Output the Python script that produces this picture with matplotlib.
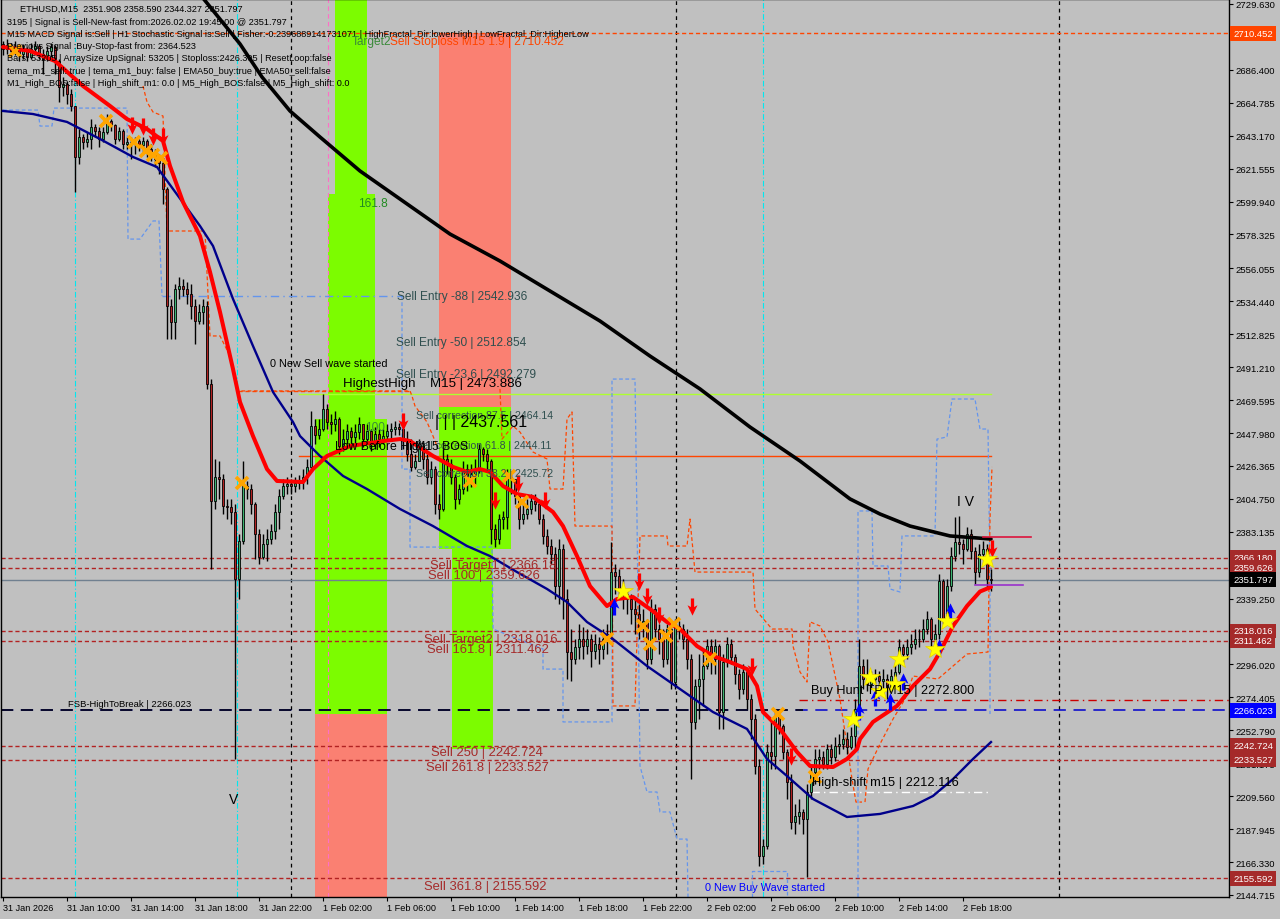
import numpy as np
import matplotlib
matplotlib.use("Agg")
import matplotlib.pyplot as plt
from matplotlib.path import Path
from matplotlib.transforms import blended_transform_factory

plt.rcParams['font.family'] = ['Liberation Sans', 'DejaVu Sans']

BG = '#c0c0c0'
W, H = 1280, 920

# ---------------- ETHUSD M15 candles (open = previous close) ----------------
first_open = 2703.4
closes = [
    2700.1, 2702.7, 2698.8, 2701.4, 2696.8, 2698.8, 2694.8, 2700.1, 2702.1, 2696.8,
    2693.5, 2698.8, 2701.4, 2692.2, 2675.1, 2677.1, 2670.5, 2662.7, 2629.2, 2642.3,
    2639.0, 2641.0, 2648.9, 2646.3, 2641.0, 2645.6, 2652.8, 2650.2, 2641.0, 2646.3,
    2637.7, 2639.0, 2639.0, 2639.7, 2637.1, 2639.7, 2634.4, 2631.2, 2627.9, 2625.2,
    2608.2, 2531.4, 2520.9, 2542.5, 2544.5, 2542.5, 2539.2, 2531.4, 2521.5, 2527.4,
    2531.4, 2480.1, 2403.3, 2419.1, 2417.8, 2400.1, 2399.4, 2396.1, 2352.1, 2377.1,
    2413.2, 2411.2, 2401.4, 2381.7, 2366.6, 2375.1, 2378.4, 2383.6, 2396.1, 2406.6,
    2413.2, 2414.5, 2413.2, 2415.2, 2416.5, 2419.1, 2425.7, 2452.6, 2446.7, 2450.6,
    2463.7, 2455.2, 2453.9, 2457.2, 2439.4, 2444.0, 2449.3, 2445.4, 2448.6, 2453.9,
    2444.0, 2449.3, 2440.8, 2447.3, 2444.0, 2446.0, 2449.3, 2450.6, 2451.9, 2450.6,
    2444.0, 2434.2, 2425.7, 2429.6, 2439.4, 2430.9, 2419.1, 2424.3, 2401.4, 2398.1,
    2430.9, 2427.6, 2419.1, 2404.7, 2411.2, 2424.3, 2417.8, 2421.1, 2424.3, 2437.5,
    2434.2, 2429.6, 2385.0, 2378.4, 2391.5, 2392.8, 2419.1, 2417.8, 2406.6, 2391.5,
    2394.8, 2398.1, 2403.3, 2401.4, 2391.5, 2380.4, 2373.8, 2368.5, 2347.5, 2371.8,
    2339.0, 2304.2, 2299.6, 2307.5, 2312.7, 2308.1, 2312.7, 2304.9, 2309.5, 2306.2,
    2312.7, 2316.0, 2356.7, 2354.1, 2345.6, 2342.3, 2339.0, 2332.4, 2329.2, 2320.6,
    2324.6, 2299.6, 2332.4, 2319.3, 2312.7, 2299.6, 2319.3, 2284.5, 2321.3, 2319.3,
    2312.7, 2299.6, 2258.3, 2281.9, 2286.5, 2295.0, 2308.1, 2299.6, 2308.1, 2264.8,
    2297.6, 2309.5, 2300.9, 2289.8, 2279.9, 2291.1, 2273.3, 2260.2, 2229.4, 2170.3,
    2176.8, 2238.6, 2235.9, 2262.2, 2255.6, 2238.6, 2218.9, 2192.6, 2196.5, 2199.2,
    2194.6, 2212.3, 2225.4, 2234.0, 2235.3, 2230.7, 2240.5, 2235.3, 2242.5, 2243.8,
    2247.1, 2241.8, 2249.1, 2266.8, 2295.0, 2286.5, 2283.2, 2286.5, 2288.4, 2285.2,
    2286.5, 2279.9, 2288.4, 2291.1, 2307.5, 2302.9, 2307.5, 2309.5, 2312.7, 2312.7,
    2319.3, 2325.9, 2312.7, 2316.0, 2350.8, 2325.9, 2347.5, 2367.2, 2376.4, 2375.1,
    2371.8, 2381.7, 2370.5, 2356.7, 2368.5, 2371.8, 2351.9, 2351.8]
highs = [
    2705.3, 2706.6, 2704.0, 2705.3, 2703.4, 2703.4, 2701.4, 2704.0, 2705.3, 2703.4,
    2700.1, 2702.1, 2704.0, 2702.7, 2693.5, 2681.7, 2679.1, 2673.8, 2662.7, 2647.6,
    2644.3, 2645.6, 2654.1, 2650.9, 2648.9, 2648.9, 2657.4, 2654.1, 2650.9, 2648.9,
    2647.6, 2642.3, 2642.3, 2642.3, 2641.0, 2642.3, 2641.0, 2637.7, 2634.4, 2631.2,
    2627.9, 2609.5, 2536.0, 2545.8, 2550.4, 2549.1, 2547.1, 2545.8, 2536.0, 2532.7,
    2536.0, 2534.6, 2483.4, 2430.9, 2429.6, 2421.1, 2404.7, 2404.7, 2401.4, 2381.7,
    2429.6, 2416.5, 2414.5, 2403.0, 2385.0, 2381.7, 2385.0, 2388.2, 2401.4, 2411.2,
    2417.8, 2419.1, 2417.8, 2419.1, 2420.4, 2424.3, 2430.9, 2462.4, 2457.2, 2457.2,
    2473.6, 2467.0, 2460.5, 2462.4, 2458.5, 2450.6, 2453.9, 2451.9, 2453.9, 2458.5,
    2453.9, 2453.9, 2450.6, 2451.9, 2450.6, 2450.6, 2453.9, 2454.5, 2455.9, 2454.5,
    2453.9, 2449.3, 2444.0, 2434.2, 2444.0, 2440.8, 2434.2, 2429.6, 2426.0, 2407.9,
    2437.5, 2434.2, 2430.9, 2421.1, 2414.5, 2429.6, 2427.6, 2427.6, 2430.9, 2440.8,
    2438.8, 2437.5, 2430.9, 2388.2, 2394.8, 2396.8, 2424.3, 2423.0, 2417.8, 2407.9,
    2401.4, 2404.7, 2407.9, 2407.9, 2404.7, 2394.8, 2385.0, 2378.4, 2373.1, 2378.4,
    2375.1, 2345.6, 2319.3, 2312.7, 2322.6, 2320.6, 2319.3, 2316.0, 2316.0, 2314.1,
    2319.3, 2322.6, 2376.4, 2362.0, 2358.7, 2352.1, 2345.6, 2342.3, 2339.0, 2335.7,
    2332.4, 2325.9, 2339.0, 2335.7, 2322.6, 2319.3, 2322.6, 2322.6, 2325.9, 2324.6,
    2322.6, 2319.3, 2302.9, 2286.5, 2302.9, 2306.2, 2312.7, 2312.7, 2312.7, 2309.5,
    2302.9, 2314.1, 2312.7, 2302.9, 2293.0, 2296.3, 2293.0, 2276.6, 2263.5, 2234.0,
    2181.4, 2243.8, 2260.2, 2266.8, 2263.5, 2256.9, 2240.5, 2224.1, 2204.4, 2207.7,
    2201.1, 2217.5, 2230.7, 2240.5, 2240.5, 2239.2, 2243.8, 2243.8, 2248.4, 2250.4,
    2253.7, 2251.7, 2255.0, 2273.3, 2312.7, 2299.6, 2299.6, 2291.7, 2293.0, 2291.7,
    2293.0, 2289.8, 2293.0, 2296.3, 2312.7, 2309.5, 2312.7, 2316.0, 2319.3, 2319.3,
    2325.9, 2331.1, 2327.2, 2322.6, 2355.4, 2352.1, 2352.1, 2373.1, 2392.8, 2393.5,
    2378.4, 2386.3, 2385.0, 2373.1, 2375.1, 2377.1, 2375.1, 2358.6]
lows = [
    2696.1, 2696.8, 2694.8, 2696.1, 2692.2, 2693.5, 2692.2, 2693.5, 2696.8, 2693.5,
    2683.7, 2692.2, 2694.8, 2683.7, 2665.3, 2669.2, 2664.0, 2659.4, 2606.2, 2624.6,
    2634.4, 2635.8, 2634.4, 2642.3, 2635.8, 2639.0, 2644.3, 2646.3, 2637.7, 2639.7,
    2634.4, 2634.4, 2627.9, 2631.2, 2633.1, 2631.2, 2629.2, 2626.6, 2622.6, 2618.0,
    2598.3, 2509.7, 2509.7, 2509.7, 2536.0, 2537.9, 2532.7, 2522.8, 2506.4, 2519.5,
    2519.5, 2476.9, 2358.7, 2398.1, 2404.7, 2394.8, 2391.5, 2388.2, 2234.0, 2339.0,
    2375.1, 2404.7, 2394.8, 2365.3, 2362.0, 2365.3, 2364.0, 2375.1, 2378.4, 2385.0,
    2404.7, 2407.9, 2407.9, 2409.2, 2411.2, 2411.2, 2414.5, 2424.3, 2440.8, 2444.0,
    2449.3, 2450.6, 2447.3, 2449.3, 2434.2, 2436.2, 2440.8, 2437.5, 2440.8, 2444.0,
    2438.8, 2440.8, 2436.2, 2437.5, 2438.8, 2440.8, 2442.7, 2444.0, 2446.7, 2446.7,
    2437.5, 2429.6, 2423.0, 2424.3, 2429.6, 2424.3, 2414.5, 2414.5, 2394.8, 2391.5,
    2396.8, 2421.1, 2414.5, 2398.1, 2401.4, 2407.9, 2409.9, 2412.5, 2414.5, 2422.0,
    2429.6, 2424.3, 2375.1, 2373.1, 2375.1, 2385.0, 2385.0, 2407.9, 2401.4, 2385.0,
    2388.2, 2391.5, 2394.8, 2396.8, 2388.2, 2375.1, 2368.5, 2362.0, 2339.0, 2335.7,
    2325.9, 2286.5, 2285.2, 2296.3, 2299.6, 2299.6, 2302.9, 2294.4, 2299.6, 2296.3,
    2299.6, 2302.9, 2312.7, 2342.3, 2339.0, 2332.4, 2329.2, 2322.6, 2316.0, 2312.7,
    2314.1, 2293.0, 2296.3, 2312.7, 2302.9, 2294.4, 2296.3, 2279.9, 2279.9, 2312.7,
    2306.2, 2293.0, 2220.8, 2253.7, 2260.2, 2268.8, 2293.0, 2289.8, 2289.8, 2253.7,
    2253.7, 2294.4, 2296.3, 2283.2, 2273.3, 2276.6, 2266.8, 2247.1, 2224.1, 2163.7,
    2165.0, 2174.9, 2227.4, 2227.4, 2250.4, 2234.0, 2207.7, 2188.0, 2184.7, 2191.3,
    2184.7, 2156.5, 2207.7, 2217.5, 2227.4, 2227.4, 2227.4, 2230.7, 2232.6, 2237.2,
    2240.5, 2237.2, 2240.5, 2240.5, 2265.5, 2279.9, 2278.6, 2279.9, 2283.2, 2279.9,
    2276.6, 2273.3, 2278.6, 2283.2, 2289.8, 2296.3, 2299.6, 2302.9, 2306.2, 2307.5,
    2310.8, 2316.0, 2306.2, 2306.2, 2312.7, 2322.6, 2322.6, 2344.3, 2364.0, 2368.5,
    2362.0, 2370.5, 2365.3, 2348.8, 2353.4, 2365.3, 2346.9, 2344.3]

# ---------------- moving averages (bar, price) ----------------
ma_black_bar = [48, 59.25, 64.75, 71.75, 79.25, 89.25, 99.25, 111.75, 124.25, 136.75,
                149.25, 161.75, 174.25, 186.75, 199.25, 211.75, 219.25, 226.75, 236.75, 247]
ma_black_px = [2740.0, 2703.4, 2681.7, 2659.4, 2642.3, 2620.0, 2601.6, 2578.6, 2560.9, 2541.2,
               2521.5, 2498.5, 2476.9, 2451.9, 2429.6, 2404.7, 2394.8, 2386.9, 2380.4, 2378.4]

ma_red_bar = [0, 6.75, 13, 20, 26.75, 31, 36, 40, 41.75, 45, 49.25, 51.75, 54.25, 57.5, 59.25,
              62.5, 66, 68.5, 75, 77.5, 81, 86.75, 95, 99.25, 101.75, 107.5, 112.5, 116,
              119.25, 121.75, 125, 128.5, 132.5, 137.5, 140, 143.5, 146.75, 151, 153.5,
              157.5, 161.75, 166, 169.25, 173.5, 177.5, 181.75, 186, 188.5, 190, 194.25,
              198.5, 201.75, 207.5, 211, 213.5, 214.25, 217.5, 223.5, 227.5, 231.75,
              234.25, 237.5, 241, 244.25, 247]
ma_red_px = [2701.4, 2698.8, 2692.2, 2675.8, 2662.7, 2654.1, 2647.6, 2639.7, 2623.3, 2599.6,
             2577.3, 2553.7, 2527.4, 2490.0, 2468.3, 2446.0, 2424.3, 2416.5, 2415.8, 2424.3,
             2432.9, 2439.4, 2442.7, 2444.0, 2442.7, 2432.9, 2425.7, 2422.4, 2424.3, 2422.4,
             2413.2, 2407.9, 2406.0, 2396.1, 2386.9, 2367.2, 2347.5, 2334.4, 2339.0, 2340.3,
             2332.4, 2323.9, 2319.3, 2308.1, 2301.6, 2297.6, 2293.0, 2281.9, 2264.8, 2253.7,
             2238.6, 2229.4, 2228.7, 2234.0, 2240.5, 2247.1, 2258.3, 2268.8, 2281.9, 2293.0,
             2304.2, 2321.3, 2334.4, 2343.9, 2346.9]

ma_navy_bar = [0, 7.5, 16, 24.25, 32.5, 38.5, 42.5, 49.25, 52.5, 57.5, 62.5, 67.5, 72.5,
               74.25, 79.25, 85, 91, 99.25, 107.5, 116, 121.75, 128.5, 136, 141, 146,
               152.5, 161, 169.25, 177.5, 186, 191, 196, 202.5, 211, 219.25, 227.5,
               232.5, 237.5, 242.5, 247]
ma_navy_px = [2659.4, 2657.4, 2652.2, 2641.0, 2629.2, 2622.6, 2608.2, 2583.9, 2570.8, 2536.0,
              2505.1, 2474.9, 2455.2, 2446.0, 2432.9, 2419.8, 2411.2, 2398.1, 2386.9, 2373.8,
              2367.2, 2356.7, 2345.6, 2337.0, 2323.9, 2312.7, 2295.0, 2279.9, 2264.8, 2253.7,
              2234.0, 2222.8, 2207.7, 2195.9, 2197.9, 2203.1, 2209.7, 2220.8, 2234.0, 2245.1]

# ---------------- channel step lines (bar, price) ----------------
blue_a_bar = [0, 8.75, 9.25, 12.25, 12.75, 31, 31.25, 34.25, 37.5, 39, 39.75]
blue_a_px = [2660.0, 2660.0, 2649.5, 2649.5, 2661.3, 2661.3, 2575.3, 2575.3, 2587.2, 2587.2, 2537.9]
blue_b_bar = [99.75, 99.75, 101.75, 101.75, 122.25, 122.5, 135, 135, 140, 140, 152.25, 152.25,
              158, 158.5, 159.25, 161, 163.5, 164.25, 166.75, 168.5, 171, 171.25]
blue_b_px = [2537.9, 2424.3, 2424.3, 2373.1, 2373.1, 2319.3, 2306.2, 2293.0, 2293.0, 2258.3,
             2258.3, 2483.4, 2483.4, 2391.5, 2229.4, 2212.3, 2212.3, 2199.2, 2199.2, 2181.4,
             2181.4, 2143.4]
blue_box_bar = [187.25, 187.25, 196, 196]
blue_box_px = [2143.4, 2160.4, 2160.4, 2143.4]
blue_c_bar = [213.75, 213.75, 217.25, 217.5, 221.25, 221.75, 224.25, 224.75, 233, 233.5, 236,
              237.25, 243, 244.25, 246.25, 246.75, 246.75]
blue_c_px = [2143.4, 2396.8, 2396.8, 2360.7, 2360.7, 2345.6, 2343.6, 2380.4, 2380.4, 2444.0,
             2445.4, 2470.3, 2470.3, 2450.6, 2450.6, 2352.1, 2263.5]

orange_a_bar = [35, 36, 37.5, 40, 41, 50.5, 51.75, 54.25, 56.75, 58.75, 101.75, 102.25, 103,
                106, 107.5, 108.5]
orange_a_px = [2675.8, 2665.3, 2658.7, 2656.1, 2580.6, 2580.6, 2511.7, 2511.7, 2498.5, 2475.6,
               2475.6, 2472.3, 2465.7, 2455.2, 2446.0, 2439.4]
orange_b_bar = [124.25, 124.75, 127.5, 129.25, 132.5, 136, 136.75, 140, 141, 142.25, 143,
                152.25, 152.5, 158, 159.25, 166, 166.25, 171, 171.75, 173, 187.5, 188,
                192.25, 197.25, 197.5, 199.25, 201, 201.75, 204.25, 206.25, 209.25, 212.25,
                213.25, 214.75]
orange_b_px = [2476.9, 2444.0, 2452.6, 2448.6, 2435.5, 2430.9, 2411.2, 2411.2, 2457.2, 2461.8,
               2386.9, 2386.9, 2268.8, 2268.8, 2380.4, 2380.4, 2373.8, 2373.8, 2391.5, 2356.7,
               2356.7, 2332.4, 2319.3, 2319.3, 2308.1, 2291.1, 2284.5, 2324.0, 2321.3, 2310.8,
               2273.3, 2220.8, 2205.7, 2205.7]
orange_c_bar = [215.5, 216.25, 219.25, 222.5, 225.5, 227.5, 233.75, 241, 246.25, 246.75, 247.25]
orange_c_px = [2205.7, 2227.4, 2243.8, 2260.2, 2273.3, 2288.4, 2286.5, 2302.9, 2304.2, 2391.5, 2425.7]

# ---------------- levels ----------------
sell_levels = [2366.180, 2359.626, 2318.016, 2311.462, 2242.724, 2233.527, 2155.592]
stoploss_level = 2710.452
bid = 2351.797
fsb_level = 2266.023
buy_hunt_tp = 2272.800
high_shift = 2212.116
highest_high = 2473.886
bos_level = 2432.9
sell_wave_level = 2475.6
entry_line = 2537.9

# zones: (bar0, bar1, price_low, price_high, colour)
zones = [
    (83.0, 91.0, 2604.9, 2740.0, '#7cfc00'),
    (81.25, 93.0, 2457.2, 2604.9, '#7cfc00'),
    (78.0, 96.0, 2263.5, 2457.2, '#7cfc00'),
    (78.0, 96.0, 2140.0, 2263.5, '#fa8072'),
    (109.0, 127.0, 2465.1, 2710.452, '#fa8072'),
    (109.0, 127.0, 2371.8, 2465.1, '#7cfc00'),
    (112.25, 122.5, 2240.5, 2371.8, '#7cfc00'),
]

# signal markers (bar, price)
sell_arrow_bar = [32.25, 35, 37.5, 40, 100, 123, 128.75, 135.5, 159, 161, 164, 172.25, 187.25, 197, 247.25]
sell_arrow_px = [2649.5, 2648.9, 2642.3, 2642.3, 2455.2, 2403.3, 2414.5, 2403.3, 2350.2, 2340.3,
                 2327.8, 2333.8, 2294.4, 2235.3, 2371.8]
cross_bar = [3, 25.75, 32.75, 35.75, 37.5, 39.5, 59.75, 116.75, 126.5, 129.75, 151, 160,
             161.75, 165.75, 167.75, 176.75, 193.75, 203]
cross_px = [2698.8, 2652.8, 2639.0, 2633.1, 2630.5, 2628.5, 2415.2, 2416.5, 2419.8, 2402.7,
            2312.7, 2321.3, 2309.5, 2314.7, 2322.6, 2299.6, 2263.5, 2222.1]
star_bar = [155, 212.5, 216.75, 219.25, 223, 224, 233, 236, 246]
star_px = [2344.3, 2260.2, 2287.8, 2278.6, 2283.2, 2299.6, 2306.2, 2324.6, 2365.3]
buy_arrow_bar = [152.75, 214, 218, 221.75, 225, 234, 236.75]
buy_arrow_px = [2334.4, 2265.5, 2274.7, 2272.1, 2285.2, 2307.5, 2331.1]

# axes
time_ticks = [0, 16, 32, 48, 64, 80, 96, 112, 128, 144, 160, 176, 192, 208, 224, 240]
time_labels = ['31 Jan 2026', '31 Jan 10:00', '31 Jan 14:00', '31 Jan 18:00', '31 Jan 22:00',
               '1 Feb 02:00', '1 Feb 06:00', '1 Feb 10:00', '1 Feb 14:00', '1 Feb 18:00',
               '1 Feb 22:00', '2 Feb 02:00', '2 Feb 06:00', '2 Feb 10:00', '2 Feb 14:00',
               '2 Feb 18:00']
price_ticks = [2729.630, 2708.015, 2686.400, 2664.785, 2643.170, 2621.555, 2599.940, 2578.325,
               2556.055, 2534.440, 2512.825, 2491.210, 2469.595, 2447.980, 2426.365, 2404.750,
               2383.135, 2361.520, 2339.250, 2317.635, 2296.020, 2274.405, 2252.790, 2231.175,
               2209.560, 2187.945, 2166.330, 2144.715]
price_boxes = [(2710.452, '#ff4500'), (2366.180, '#a52a2a'), (2359.626, '#a52a2a'),
               (2351.797, '#000000'), (2318.016, '#a52a2a'), (2311.462, '#a52a2a'),
               (2266.023, '#0000ff'), (2242.724, '#a52a2a'), (2233.527, '#a52a2a'),
               (2155.592, '#a52a2a')]

header = [
    'ETHUSD,M15  2351.908 2358.590 2344.327 2351.797',
    '3195 | Signal is Sell-New-fast from:2026.02.02 19:45:00 @ 2351.797',
    'M15 MACD Signal is:Sell | H1 Stochastic Signal is:Sell | Fisher:-0.2396889141731071 | '
    'HighFractal_Dir:lowerHigh | LowFractal_Dir:HigherLow',
    'Previous Signal :Buy-Stop-fast from: 2364.523',
    'Bars: 53205 | ArraySize UpSignal: 53205 | Stoploss:2426.305 | ResetLoop:false',
    'tema_m1_sell: true | tema_m1_buy: false | EMA50_buy:true | EMA50_sell:false',
    'M1_High_BOS:false | High_shift_m1: 0.0 | M5_High_BOS:false | M5_High_shift: 0.0',
]

# ---------------- figure ----------------
fig = plt.figure(figsize=(W / 100, H / 100), dpi=100, facecolor=BG)
ax = fig.add_axes([1 / W, 22 / H, 1228 / W, 898 / H], facecolor=BG)
ax.set_xlim(-0.5, 306.5)
ax.set_ylim(2143.37, 2732.91)

for b0, b1, p0, p1, col in zones:
    ax.fill_between([b0, b1], p0, p1, color=col, lw=0, zorder=1)

# vertical separators
for b in [72, 168.25, 264]:
    ax.axvline(b, color='black', lw=0.9, ls=(0, (3, 3)), zorder=2)
for b in [18, 58.5, 190]:
    ax.axvline(b, color='#00e8f0', lw=0.8, ls=(0, (5, 2, 1, 2)), zorder=2)
ax.axvline(81.25, color='#ff6ec7', lw=0.8, ls=(0, (4, 3)), zorder=2)

# horizontal levels
for lv in sell_levels:
    ax.axhline(lv, color='#b22222', lw=1, ls=(0, (3, 2)), zorder=2)
ax.axhline(stoploss_level, color='#ff4500', lw=1, ls=(0, (3, 2)), zorder=2)
ax.axhline(bid, color='#708090', lw=1, zorder=2)
ax.axhline(fsb_level, color='#0000cd', lw=1.1, ls=(0, (8, 5)), zorder=2)
ax.plot([-0.5, 200], [fsb_level, fsb_level], color='black', lw=1.1, ls=(0, (8, 5)), zorder=2)
ax.plot([199, 306.5], [buy_hunt_tp, buy_hunt_tp], color='#cc0000', lw=1, ls=(0, (6, 3, 1, 3)), zorder=2)
ax.plot([202, 247], [high_shift, high_shift], color='white', lw=1, ls=(0, (6, 3, 1, 3)), zorder=2)
ax.plot([74, 247], [highest_high, highest_high], color='#adff2f', lw=1, zorder=2)
ax.plot([74, 247], [bos_level, bos_level], color='#ff4500', lw=1, zorder=2)
ax.plot([58.75, 101.75], [sell_wave_level, sell_wave_level], color='#ff4500', lw=1, ls=(0, (3, 2)), zorder=2)
ax.plot([39.75, 99.75], [entry_line, entry_line], color='#6495ed', lw=1, ls=(0, (6, 3, 1, 3)), zorder=2)

# channel steps
for bx, py in [(blue_a_bar, blue_a_px), (blue_b_bar, blue_b_px), (blue_box_bar, blue_box_px),
               (blue_c_bar, blue_c_px)]:
    ax.plot(bx, py, color='#6495ed', lw=0.9, ls=(0, (3, 2)), zorder=2)
for bx, py in [(orange_a_bar, orange_a_px), (orange_b_bar, orange_b_px), (orange_c_bar, orange_c_px)]:
    ax.plot(bx, py, color='#ff4500', lw=0.9, ls=(0, (3, 2)), zorder=2)

# candles
x = np.arange(len(closes))
c = np.array(closes)
o = np.array([first_open] + closes[:-1])
up = c >= o
ax.vlines(x, lows, highs, color='black', lw=1, zorder=3)
ax.bar(x[up], (c - o)[up], bottom=o[up], width=0.7, color='#3cb371', edgecolor='black', lw=0.6, zorder=4)
ax.bar(x[~up], (c - o)[~up], bottom=o[~up], width=0.7, color='#b22222', edgecolor='black', lw=0.6, zorder=4)

# moving averages
ax.plot(ma_black_bar, ma_black_px, color='black', lw=2.6, zorder=5, solid_capstyle='round')
ax.plot(ma_navy_bar, ma_navy_px, color='#00008b', lw=1.7, zorder=5)
ax.plot(ma_red_bar, ma_red_px, color='#ff0000', lw=2.9, zorder=5, solid_capstyle='round')

ax.plot([245, 257], [2379.7, 2379.7], color='#dc143c', lw=1.2, zorder=5)
ax.plot([243, 255], [2348.2, 2348.2], color='#9932cc', lw=1.2, zorder=5)

# markers
down = Path([(-0.18, 1), (0.18, 1), (0.18, 0.05), (0.55, 0.25), (0, -0.9), (-0.55, 0.25),
             (-0.18, 0.05), (-0.18, 1)], closed=True)
upm = Path([(vx, -vy) for vx, vy in down.vertices], closed=True)
ax.plot(cross_bar, cross_px, ls='none', marker='x', ms=8, mew=2.6, color='#ffa500', zorder=6)
ax.plot(sell_arrow_bar, sell_arrow_px, ls='none', marker=down, ms=13, color='#ff0000', mew=0, zorder=6)
ax.plot(buy_arrow_bar, buy_arrow_px, ls='none', marker=upm, ms=13, color='#0000ff', mew=0, zorder=6)
ax.plot(star_bar, star_px, ls='none', marker='*', ms=15, color='#ffff00', mec='#e6d000', mew=0.5, zorder=6)

# axis cosmetics
for s in ax.spines.values():
    s.set_color('black')
    s.set_linewidth(1)
ax.yaxis.tick_right()
ax.set_yticks(price_ticks)
ax.set_yticklabels(['%.3f' % p for p in price_ticks])
ax.tick_params(axis='y', direction='out', length=3, pad=2, labelsize=6.8, colors='black')
ax.set_xticks(time_ticks)
ax.set_xticklabels(time_labels)
ax.tick_params(axis='x', direction='out', length=3, pad=1, labelsize=6.6, colors='black')
for lab in ax.get_xticklabels():
    lab.set_horizontalalignment('left')

trans = blended_transform_factory(ax.transAxes, ax.transData)
for p, col in price_boxes:
    ax.text(1.0035, p, '%.3f' % p, transform=trans, fontsize=6.8, color='white', va='center',
            ha='left', zorder=10, clip_on=False,
            bbox=dict(boxstyle='square,pad=0.3', fc=col, ec='none'))


def ftext(px, py, s, **kw):
    fig.text(px / W, 1 - py / H, s, va='center', ha='left', **kw)


for k, line in enumerate(header):
    ftext(7 if k else 20, 10 + 12.2 * k if k else 9, line, fontsize=6.6, color='black')

dslate = '#2f4f4f'
brown = '#a52a2a'
ftext(352, 42, 'Target2', fontsize=8.6, color='#3a8a3a')
ftext(390, 42, 'Sell Stoploss M15 1.9 | 2710.452', fontsize=8.6, color='#ff4500')
ftext(358, 204, '161.8', fontsize=8.6, color='#228b22')
ftext(397, 297, 'Sell Entry -88 | 2542.936', fontsize=8.6, color=dslate)
ftext(396, 343, 'Sell Entry -50 | 2512.854', fontsize=8.6, color=dslate)
ftext(396, 375, 'Sell Entry -23.6 | 2492.279', fontsize=8.6, color=dslate)
ftext(270, 364, '0 New Sell wave started', fontsize=7.8, color='black')
ftext(343, 384, 'HighestHigh    M15 | 2473.886', fontsize=9.5, color='black')
ftext(416, 416, 'Sell correction 87.5 | 2464.14', fontsize=7.6, color=dslate)
ftext(435, 423, '| | | 2437.561', fontsize=11.5, color='black')
ftext(365, 428, '100', fontsize=8.6, color='#3a8a3a')
ftext(335, 447, 'Low Before High', fontsize=8.8, color='black')
ftext(415, 446, 'Sell correction 61.8 | 2444.11', fontsize=7.6, color=dslate)
ftext(415, 447, 'M15 BOS', fontsize=8.8, color='black')
ftext(416, 474, 'Sell correction 38.2 | 2425.72', fontsize=7.6, color=dslate)
ftext(430, 566, 'Sell Target1 | 2366.18', fontsize=9.4, color=brown)
ftext(428, 576, 'Sell 100 | 2359.626', fontsize=9.4, color=brown)
ftext(424, 640, 'Sell Target2 | 2318.016', fontsize=9.4, color=brown)
ftext(427, 650, 'Sell 161.8 | 2311.462', fontsize=9.4, color=brown)
ftext(431, 753, 'Sell 250 | 2242.724', fontsize=9.4, color=brown)
ftext(426, 768, 'Sell 261.8 | 2233.527', fontsize=9.4, color=brown)
ftext(424, 887, 'Sell 361.8 | 2155.592', fontsize=9.4, color=brown)
ftext(68, 705, 'FSB-HighToBreak | 2266.023', fontsize=6.8, color='black')
ftext(811, 691, 'Buy Hunt TP M15 | 2272.800', fontsize=9.2, color='black')
ftext(812, 783, 'High-shift m15 | 2212.116', fontsize=9.3, color='black')
ftext(705, 888, '0 New Buy Wave started', fontsize=7.8, color='#0000ff')
ftext(957, 502, 'I V', fontsize=10, color='black')
ftext(229, 800, 'V', fontsize=10, color='black')

fig.savefig('out.png', dpi=100, facecolor=BG)
